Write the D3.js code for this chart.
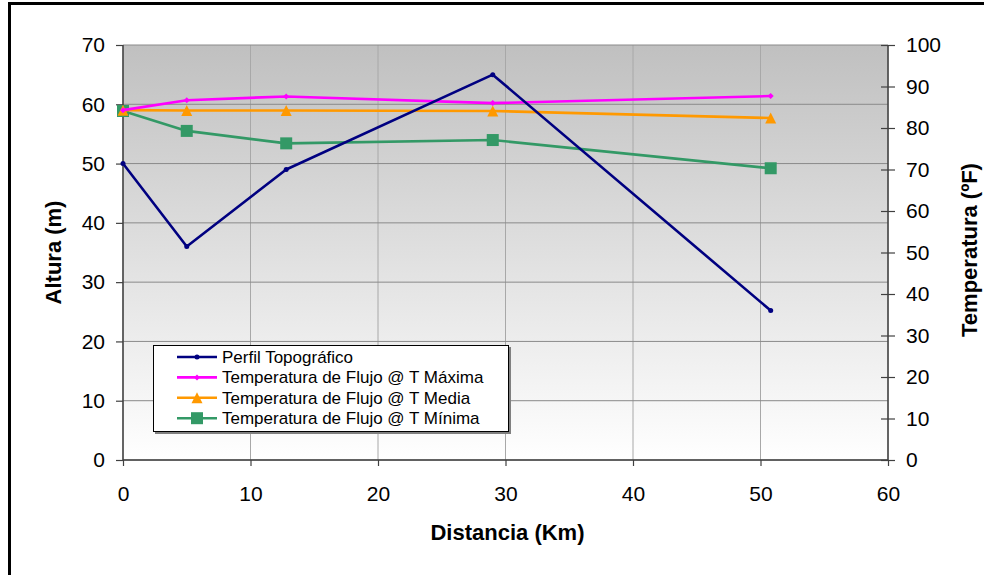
<!DOCTYPE html>
<html>
<head>
<meta charset="utf-8">
<script src="https://cdn.jsdelivr.net/npm/d3@7"></script>
<style>
    body { margin: 0; background: #fff; }
    text { font-family: "Liberation Sans", Arial, sans-serif; fill: #000; }
    .tick text { font-size: 21px; }
    .title { font-size: 22px; font-weight: bold; }
    .legend text { font-size: 17px; }
</style>
</head>
<body>
<div id="chart"></div>
<script>
"use strict"

// Data
const distancia = [0, 5, 12.8, 29, 50.8];
const perfil = [50, 36, 49, 65, 25.2];
const tMaxima = [84.3, 86.7, 87.6, 86.0, 87.7];
const tMedia = [84.3, 84.2, 84.2, 84.1, 82.4];
const tMinima = [84.1, 79.3, 76.3, 77.1, 70.3];

const xTicks = [0, 10, 20, 30, 40, 50, 60];
const yLeftTicks = [0, 10, 20, 30, 40, 50, 60, 70];
const yRightTicks = [0, 10, 20, 30, 40, 50, 60, 70, 80, 90, 100];

const seriesNames = [
    "Perfil Topográfico",
    "Temperatura de Flujo @ T Máxima",
    "Temperatura de Flujo @ T Media",
    "Temperatura de Flujo @ T Mínima"
];

function drawChart(){
    const figWidth = 984;
    const figHeight = 575;
    const plotLeft = 123, plotRight = 888, plotTop = 45, plotBottom = 460;

    let svg = d3.select("#chart").append("svg")
        .attr("width", figWidth)
        .attr("height", figHeight);

    // chart frame (right and bottom edges fall outside the picture)
    svg.append("rect")
        .attr("x", 9.5).attr("y", 3.5)
        .attr("width", 1000).attr("height", 600)
        .attr("fill", "none")
        .attr("stroke", "#000")
        .attr("stroke-width", 3);

    // Scales
    let xScale = d3.scaleLinear().domain([0, 60]).range([plotLeft, plotRight]);
    let yLeft = d3.scaleLinear().domain([0, 70]).range([plotBottom, plotTop]);
    let yRight = d3.scaleLinear().domain([0, 100]).range([plotBottom, plotTop]);

    // plot area gradient
    let grad = svg.append("defs").append("linearGradient")
        .attr("id", "bg").attr("x1", 0).attr("y1", 0).attr("x2", 0).attr("y2", 1);
    grad.append("stop").attr("offset", "0%").attr("stop-color", "#c0c0c0");
    grad.append("stop").attr("offset", "100%").attr("stop-color", "#ffffff");

    svg.append("rect")
        .attr("x", plotLeft).attr("y", plotTop)
        .attr("width", plotRight - plotLeft)
        .attr("height", plotBottom - plotTop)
        .attr("fill", "url(#bg)");

    // Gridlines
    svg.append("g")
        .attr("class", "grid")
        .selectAll("line")
        .data(xTicks)
        .enter().append("line")
            .attr("x1", d => xScale(d)).attr("x2", d => xScale(d))
            .attr("y1", plotTop).attr("y2", plotBottom)
            .attr("stroke", "#a8a8a8")
            .attr("stroke-width", 1);
    svg.append("g")
        .attr("class", "grid")
        .selectAll("line")
        .data(yLeftTicks)
        .enter().append("line")
            .attr("x1", plotLeft).attr("x2", plotRight)
            .attr("y1", d => yLeft(d)).attr("y2", d => yLeft(d))
            .attr("stroke", "#8a8a8a")
            .attr("stroke-width", 1);

    // Axes
    let xAxis = d3.axisBottom(xScale).tickValues(xTicks).tickSize(6).tickPadding(20);
    let leftAxis = d3.axisLeft(yLeft).tickValues(yLeftTicks).tickSize(7).tickPadding(11);
    let rightAxis = d3.axisRight(yRight).tickValues(yRightTicks).tickSize(7).tickPadding(11);

    function styleAxis(g){
        g.select(".domain").attr("stroke", "#404040").attr("stroke-width", 1.5);
        g.selectAll(".tick line").attr("stroke", "#404040").attr("stroke-width", 1.2);
        g.selectAll(".tick text").attr("fill", "#000");
        g.attr("font-family", null).attr("font-size", null);
    }

    svg.append("g")
        .attr("class", "x axis")
        .attr("transform", `translate(0, ${plotBottom})`)
        .call(xAxis)
        .call(g => g.select(".domain").attr("d", `M${plotLeft},0H${plotRight}`))
        .call(styleAxis);
    svg.append("g")
        .attr("class", "y axis")
        .attr("transform", `translate(${plotLeft}, 0)`)
        .call(leftAxis)
        .call(g => g.select(".domain").attr("d", `M0,${plotTop}V${plotBottom}`))
        .call(styleAxis);
    svg.append("g")
        .attr("class", "y2 axis")
        .attr("transform", `translate(${plotRight}, 0)`)
        .call(rightAxis)
        .call(g => g.select(".domain").attr("d", `M0,${plotTop}V${plotBottom}`))
        .call(g => g.selectAll(".tick line").attr("x1", -7))
        .call(styleAxis);

    // Axis titles
    svg.append("text")
        .attr("class", "title")
        .attr("text-anchor", "middle")
        .attr("transform", `translate(61, ${(plotTop + plotBottom) / 2}) rotate(-90)`)
        .text("Altura (m)");
    svg.append("text")
        .attr("class", "title")
        .attr("text-anchor", "middle")
        .attr("transform", `translate(977, 250) rotate(-90)`)
        .text("Temperatura (ºF)");
    svg.append("text")
        .attr("class", "title")
        .attr("text-anchor", "middle")
        .attr("x", (plotLeft + plotRight) / 2 + 2)
        .attr("y", 540)
        .text("Distancia (Km)");

    // Series definitions
    const series = [
        {name: seriesNames[0], values: perfil, y: yLeft, color: "#000080", marker: "circle", size: 5},
        {name: seriesNames[1], values: tMaxima, y: yRight, color: "#ff00ff", marker: "diamond", size: 6},
        {name: seriesNames[2], values: tMedia, y: yRight, color: "#ff9900", marker: "triangle", size: 11},
        {name: seriesNames[3], values: tMinima, y: yRight, color: "#339966", marker: "square", size: 12}
    ];

    function drawMarker(g, s, cx, cy){
        if (s.marker == "circle"){
            g.append("circle").attr("cx", cx).attr("cy", cy).attr("r", s.size / 2)
                .attr("fill", s.color);
        } else if (s.marker == "diamond"){
            const h = s.size / 2;
            g.append("path")
                .attr("d", `M${cx},${cy - h}L${cx + h},${cy}L${cx},${cy + h}L${cx - h},${cy}Z`)
                .attr("fill", s.color);
        } else if (s.marker == "triangle"){
            const h = s.size / 2;
            g.append("path")
                .attr("d", `M${cx},${cy - h}L${cx + h},${cy + h}L${cx - h},${cy + h}Z`)
                .attr("fill", s.color);
        } else {
            const h = s.size / 2;
            g.append("rect").attr("x", cx - h).attr("y", cy - h)
                .attr("width", s.size).attr("height", s.size)
                .attr("fill", s.color);
        }
    }

    // Draw series bottom-up so that the profile ends on top
    const drawOrder = [3, 2, 1, 0];
    drawOrder.forEach(i => {
        const s = series[i];
        const pts = distancia.map((d, j) => [d, s.values[j]]);
        let g = svg.append("g").attr("class", "series");
        g.append("path")
            .datum(pts)
            .attr("fill", "none")
            .attr("stroke", s.color)
            .attr("stroke-width", 2.6)
            .attr("stroke-linejoin", "round")
            .attr("d", d3.line().x(p => xScale(p[0])).y(p => s.y(p[1])));
        pts.forEach(p => drawMarker(g, s, xScale(p[0]), s.y(p[1])));
    });

    // Legend
    let legend = svg.append("g").attr("class", "legend");
    legend.append("rect")
        .attr("x", 155).attr("y", 347)
        .attr("width", 356).attr("height", 87)
        .attr("fill", "#808080");
    legend.append("rect")
        .attr("x", 153.5).attr("y", 345.5)
        .attr("width", 355).attr("height", 86)
        .attr("fill", "#fff")
        .attr("stroke", "#000")
        .attr("stroke-width", 1);

    series.forEach((s, i) => {
        const ly = 357 + i * 20.4;
        let row = legend.append("g");
        row.append("line")
            .attr("x1", 177).attr("x2", 217)
            .attr("y1", ly).attr("y2", ly)
            .attr("stroke", s.color)
            .attr("stroke-width", 2.6);
        drawMarker(row, s, 197, ly);
        row.append("text")
            .attr("x", 222)
            .attr("y", ly + 6)
            .text(s.name);
    });
}

drawChart();
</script>
</body>
</html>
